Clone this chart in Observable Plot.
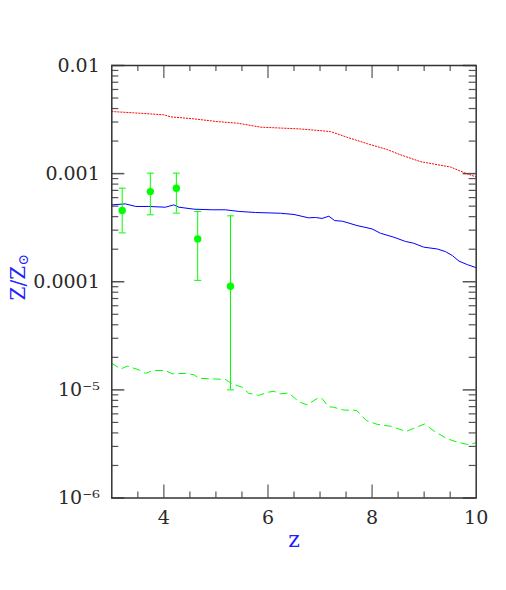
<!DOCTYPE html>
<html><head><meta charset="utf-8">
<script src="https://cdn.jsdelivr.net/npm/d3@7"></script>
<script src="https://cdn.jsdelivr.net/npm/@observablehq/plot@0.6"></script>
<style>body{margin:0;background:#fff}#chart{position:absolute;left:0;top:0}</style>
</head><body><div id="chart"></div>
<script>
// Red dotted model
const redZ = [3.0,3.42,4.0,4.13,4.58,5.02,5.41,5.86,6.62,7.2,7.52,7.91,8.29,8.55,8.93,9.51,9.77,10.0];
const redY = [3.75e-3,3.65e-3,3.5e-3,3.35e-3,3.21e-3,3.03e-3,2.93e-3,2.69e-3,2.59e-3,2.45e-3,2.17e-3,1.89e-3,1.67e-3,1.49e-3,1.29e-3,1.15e-3,1.02e-3,9.3e-4];
// Blue solid model
const blueZ = [3.0,3.26,3.46,3.71,4.03,4.19,4.29,4.58,4.93,5.18,5.44,5.76,6.24,6.50,6.78,6.91,7.04,7.17,7.28,7.43,7.71,8.0,8.16,8.42,8.64,8.80,8.99,9.25,9.41,9.54,9.67,9.83,10.0];
const blueY = [5.14e-4,5.25e-4,4.97e-4,4.97e-4,4.89e-4,5.14e-4,4.89e-4,4.69e-4,4.63e-4,4.63e-4,4.47e-4,4.37e-4,4.3e-4,4.19e-4,3.9e-4,3.93e-4,3.85e-4,4.04e-4,3.68e-4,3.63e-4,3.31e-4,3.08e-4,2.81e-4,2.58e-4,2.36e-4,2.27e-4,2.09e-4,2.01e-4,1.9e-4,1.75e-4,1.55e-4,1.44e-4,1.35e-4];
// Green dashed model
const greenZ = [3.0,3.17,3.30,3.52,3.65,3.78,4.03,4.16,4.42,4.58,4.67,4.99,5.18,5.31,5.5,5.63,5.82,6.02,6.11,6.24,6.40,6.59,6.75,6.97,7.04,7.16,7.26,7.46,7.70,7.89,8.10,8.37,8.65,9.01,9.22,9.45,9.65,9.85,10.0];
const greenY = [1.76e-5,1.56e-5,1.66e-5,1.53e-5,1.42e-5,1.51e-5,1.51e-5,1.41e-5,1.42e-5,1.38e-5,1.28e-5,1.26e-5,1.25e-5,1.14e-5,1.06e-5,9.3e-6,8.9e-6,9.55e-6,9.7e-6,9.2e-6,9.35e-6,7.8e-6,7.26e-6,8.47e-6,8.3e-6,7.0e-6,6.9e-6,6.5e-6,6.47e-6,5.2e-6,4.8e-6,4.6e-6,4.12e-6,4.84e-6,4.06e-6,3.52e-6,3.27e-6,3.12e-6,3.25e-6];
// Observations with error bars
const obsZ = [3.20,3.74,4.24,4.65,5.28];
const obsY = [4.56e-4,6.82e-4,7.33e-4,2.49e-4,9.1e-5];
const obsHi = [7.33e-4,1.01e-3,1.01e-3,4.47e-4,4.07e-4];
const obsLo = [2.83e-4,4.16e-4,4.31e-4,1.03e-4,1.0e-5];
// Ticks
const xMajor = [4,6,8];
const xMinor = [3.5,4.5,5,5.5,6.5,7,7.5,8.5,9,9.5];
const xLabels = [4,6,8,10];
const yMajor = [1e-6,1e-5,1e-4,1e-3,1e-2];
const yLabels = ["10\u207B\u2076","10\u207B\u2075","0.0001","0.001","0.01"];
const yMinor = [1e-6,1e-5,1e-4,1e-3].flatMap(d => [2,3,4,5,6,7,8,9].map(k => k*d));

const red = redZ.map((z,i)=>({z, v: redY[i]}));
const blue = blueZ.map((z,i)=>({z, v: blueY[i]}));
const green = greenZ.map((z,i)=>({z, v: greenY[i]}));
const obs = obsZ.map((z,i)=>({z, v: obsY[i], hi: obsHi[i], lo: obsLo[i]}));
const yTicks = yMajor.map((v,i)=>({v, label: yLabels[i]}));

const W=506, H=590, mt=65, mb=92.5, ml=111.3, mr=30.3;
const pw = W-ml-mr, ph = H-mt-mb;
const tickC = "#555", labC = "#2a2a2a", font = "DejaVu Serif";
const capSymbol = {draw(ctx){ ctx.moveTo(-3.5,0); ctx.lineTo(3.5,0); }};

const chart = Plot.plot({
  width: W, height: H, marginTop: mt, marginBottom: mb, marginLeft: ml, marginRight: mr,
  x: {domain: [3,10], axis: null},
  y: {type: "log", domain: [1e-6, 1e-2], axis: null},
  style: {background: "white", fontFamily: font},
  marks: [
    // x ticks (inward, bottom & top)
    Plot.ruleX(xMinor, {x: d=>d, insetTop: ph-6, stroke: tickC, strokeWidth: 1.2}),
    Plot.ruleX(xMinor, {x: d=>d, insetBottom: ph-6, stroke: tickC, strokeWidth: 1.2}),
    Plot.ruleX(xMajor, {x: d=>d, insetTop: ph-13, stroke: tickC, strokeWidth: 1.2}),
    Plot.ruleX(xMajor, {x: d=>d, insetBottom: ph-13, stroke: tickC, strokeWidth: 1.2}),
    // y ticks (inward, left & right)
    Plot.ruleY(yMinor, {y: d=>d, insetRight: pw-7, stroke: tickC, strokeWidth: 1.2}),
    Plot.ruleY(yMinor, {y: d=>d, insetLeft: pw-7, stroke: tickC, strokeWidth: 1.2}),
    Plot.ruleY(yMajor, {y: d=>d, insetRight: pw-13, stroke: tickC, strokeWidth: 1.5}),
    Plot.ruleY(yMajor, {y: d=>d, insetLeft: pw-13, stroke: tickC, strokeWidth: 1.5}),
    // model lines
    Plot.line(red, {x: "z", y: "v", stroke: "#ff0000", strokeWidth: 1, strokeDasharray: "1.2,1.8"}),
    Plot.line(blue, {x: "z", y: "v", stroke: "#0000ff", strokeWidth: 1}),
    Plot.line(green, {x: "z", y: "v", stroke: "#00ff00", strokeWidth: 1, strokeDasharray: "7,5"}),
    // observations
    Plot.ruleX(obs, {x: "z", y1: "lo", y2: "hi", stroke: "#00ff00", strokeWidth: 1}),
    Plot.dot(obs, {x: "z", y: "hi", symbol: capSymbol, r: 3.5, stroke: "#00ff00", strokeWidth: 1}),
    Plot.dot(obs, {x: "z", y: "lo", symbol: capSymbol, r: 3.5, stroke: "#00ff00", strokeWidth: 1}),
    Plot.dot(obs, {x: "z", y: "v", r: 3.7, fill: "#00ff00", stroke: "none"}),
    Plot.frame({stroke: "#333", strokeWidth: 1.5}),
    // tick labels
    Plot.text(xLabels, {x: d=>d, frameAnchor: "bottom", dy: 20, fontSize: 19, fill: labC, lineAnchor: "middle"}),
    Plot.text(yTicks, {y: "v", text: "label", frameAnchor: "left", dx: -12, textAnchor: "end", fontSize: 19, fill: labC, lineAnchor: "middle"}),
    // x title
    Plot.text(["z"], {frameAnchor: "bottom", dy: 42, fontSize: 22, fill: "#2020ff", lineAnchor: "middle"})
  ]
});
document.getElementById("chart").appendChild(chart);

// Y-axis title with subscript
const svg = d3.select(chart);
const t = svg.append("text")
  .attr("transform", `translate(18,${mt + ph/2 - 4}) rotate(-90)`)
  .attr("text-anchor", "middle")
  .attr("dominant-baseline", "central")
  .attr("font-family", font)
  .attr("font-size", 20)
  .attr("fill", "#2020ff");
t.append("tspan").text("Z/Z");
t.append("tspan").attr("dy", 5).attr("font-size", 14).text("\u2299");
</script></body></html>
